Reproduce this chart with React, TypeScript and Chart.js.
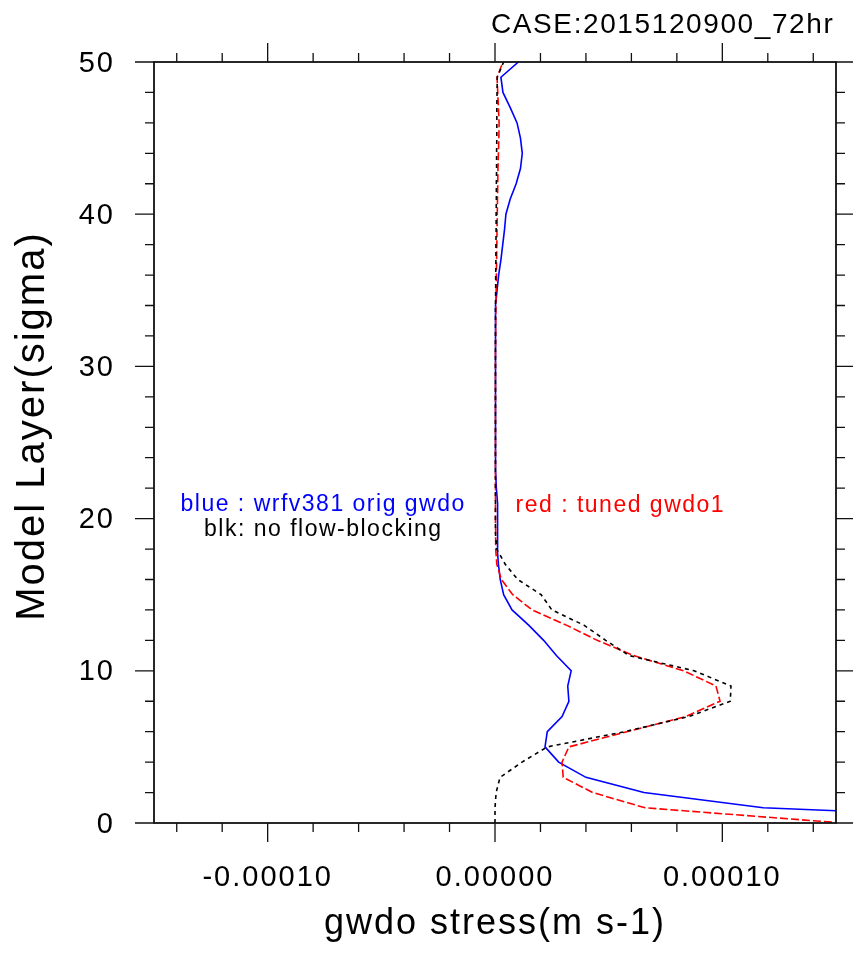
import React, { useEffect, useRef } from 'react';
import { Chart, registerables } from 'chart.js';

Chart.register(...registerables);

// ---- data (stress values in units of 1e-5 m s-1) ----
const LAYERS = [
  0, 1, 2, 3, 4, 5, 6, 7, 8, 9,
  10, 11, 12, 13, 14, 15, 16, 17, 18, 19,
  20, 21, 22, 23, 24, 25, 26, 27, 28, 29,
  30, 31, 32, 33, 34, 35, 36, 37, 38, 39,
  40, 41, 42, 43, 44, 45, 46, 47, 48, 49, 50,
];
const UNIT = 1e-5;
const BLUE_ORIG = [
  28, 11.8, 6.55, 4.0, 2.8, 2.2, 2.3, 2.95, 3.25, 3.2,
  3.35, 2.7, 2.14, 1.48, 0.75, 0.38, 0.23, 0.15, 0.1, 0.12,
  0.12, 0.1, 0.06, 0.03, 0.02, 0.02, 0.02, 0.02, 0.02, 0.02,
  0.02, 0.02, 0.02, 0.03, 0.04, 0.09, 0.16, 0.26, 0.34, 0.42,
  0.48, 0.67, 0.93, 1.12, 1.2, 1.12, 0.97, 0.67, 0.35, 0.26, 1.03,
];
const RED_TUNED = [
  15.3, 6.6, 4.3, 3.0, 2.95, 3.25, 5.8, 8.4, 9.9, 9.72,
  8.3, 6.1, 4.5, 3.14, 1.63, 0.78, 0.28, 0.08, 0.03, 0.03,
  0.02, 0.02, 0.02, 0.02, 0.02, 0.02, 0.02, 0.02, 0.02, 0.02,
  0.02, 0.02, 0.03, 0.03, 0.04, 0.05, 0.06, 0.07, 0.08, 0.09,
  0.1, 0.11, 0.12, 0.13, 0.15, 0.17, 0.18, 0.15, 0.12, 0.09, 0.35,
];
const BLACK_NOBLOCK = [
  0, 0, 0.05, 0.22, 1.19, 2.3, 5.7, 8.54, 10.35, 10.38,
  8.76, 5.9, 4.87, 3.91, 2.5, 2.03, 1.0, 0.45, 0.08, 0.02,
  0.02, 0.02, 0.02, 0.02, 0.02, 0.02, 0.02, 0.02, 0.02, 0.02,
  0.02, 0.02, 0.02, 0.02, 0.02, 0.03, 0.03, 0.04, 0.04, 0.05,
  0.05, 0.06, 0.06, 0.07, 0.07, 0.08, 0.08, 0.08, 0.09, 0.1, 0.38,
];

// ---- axes ----
const X_MIN = -0.00015;
const X_MAX = 0.00015;
const X_LABEL_TICKS = [-0.0001, 0, 0.0001];
const X_MINOR_TICKS = [
  -0.00014, -0.00012, -0.0001, -0.00008, -0.00006, -0.00004, -0.00002, 0,
  0.00002, 0.00004, 0.00006, 0.00008, 0.0001, 0.00012, 0.00014,
];
const Y_MIN = 0;
const Y_MAX = 50;
const Y_LABEL_TICKS = [0, 10, 20, 30, 40, 50];
const Y_MINOR_TICKS = [
  2, 4, 6, 8, 12, 14, 16, 18, 22, 24, 26, 28, 32, 34, 36, 38, 42, 44, 46, 48,
];

// ---- text ----
const CASE_TITLE = 'CASE:2015120900_72hr';
const X_TITLE = 'gwdo stress(m s-1)';
const Y_TITLE = 'Model Layer(sigma)';
const NOTE_BLUE = 'blue : wrfv381 orig gwdo';
const NOTE_RED = 'red : tuned gwdo1';
const NOTE_BLACK = 'blk: no flow-blocking';

const FONT = "'Liberation Sans', Arial, Helvetica, sans-serif";

const toPoints = (vals: number[]) =>
  vals.map((v, i) => ({ x: v * UNIT, y: LAYERS[i] }));

const nclPlugin = {
  id: 'nclFrame',
  beforeDraw(chart: any) {
    chart.ctx.letterSpacing = '2px';
  },
  afterDraw(chart: any) {
    const ctx = chart.ctx;
    const a = chart.chartArea;
    const xs = chart.scales.x;
    const ys = chart.scales.y;
    ctx.save();
    ctx.letterSpacing = '0px';
    ctx.strokeStyle = '#111';
    ctx.lineWidth = 1.3;
    const MAJOR = 19;
    const MINOR = 9;
    ctx.beginPath();
    const xt = [...X_MINOR_TICKS];
    for (const v of xt) {
      const px = xs.getPixelForValue(v);
      const len = X_LABEL_TICKS.some((m) => Math.abs(m - v) < 1e-12) ? MAJOR : MINOR;
      ctx.moveTo(px, a.bottom);
      ctx.lineTo(px, a.bottom + len);
      ctx.moveTo(px, a.top);
      ctx.lineTo(px, a.top - len);
    }
    const yt = [...Y_LABEL_TICKS, ...Y_MINOR_TICKS];
    for (const v of yt) {
      const py = ys.getPixelForValue(v);
      const len = Y_LABEL_TICKS.includes(v) ? MAJOR : MINOR;
      ctx.moveTo(a.left, py);
      ctx.lineTo(a.left - len, py);
      ctx.moveTo(a.right, py);
      ctx.lineTo(a.right + len, py);
    }
    ctx.stroke();
    ctx.lineWidth = 1.8;
    ctx.strokeRect(a.left, a.top, a.right - a.left, a.bottom - a.top);

    // texts
    ctx.textBaseline = 'alphabetic';
    ctx.textAlign = 'left';
    ctx.fillStyle = '#000';
    ctx.font = `28px ${FONT}`;
    ctx.letterSpacing = '1.6px';
    ctx.fillText(CASE_TITLE, 491, 33);

    ctx.font = `23px ${FONT}`;
    ctx.letterSpacing = '1.5px';
    ctx.fillStyle = '#0000ff';
    ctx.fillText(NOTE_BLUE, 180.5, 511);
    ctx.fillStyle = '#ff0000';
    ctx.fillText(NOTE_RED, 515.5, 511.5);
    ctx.fillStyle = '#000';
    ctx.fillText(NOTE_BLACK, 204, 536);

    ctx.save();
    ctx.font = `40px ${FONT}`;
    ctx.letterSpacing = '2px';
    ctx.translate(43.5, 426);
    ctx.rotate(-Math.PI / 2);
    ctx.textAlign = 'center';
    ctx.fillText(Y_TITLE, 0, 0);
    ctx.restore();

    ctx.restore();
  },
};

export default function App() {
  const ref = useRef<HTMLCanvasElement | null>(null);
  useEffect(() => {
    const canvas = ref.current;
    if (!canvas) return;
    const chart = new Chart(canvas, {
      type: 'scatter',
      data: {
        datasets: [
          {
            label: 'blk',
            data: toPoints(BLACK_NOBLOCK),
            showLine: true,
            borderColor: '#000000',
            borderWidth: 1.6,
            borderDash: [4, 4],
            pointRadius: 0,
            fill: false,
          },
          {
            label: 'red',
            data: toPoints(RED_TUNED),
            showLine: true,
            borderColor: '#ff0000',
            borderWidth: 1.6,
            borderDash: [8, 3],
            pointRadius: 0,
            fill: false,
          },
          {
            label: 'blue',
            data: toPoints(BLUE_ORIG),
            showLine: true,
            borderColor: '#0000ff',
            borderWidth: 1.6,
            pointRadius: 0,
            fill: false,
          },
        ],
      },
      plugins: [nclPlugin],
      options: {
        animation: false,
        responsive: false,
        devicePixelRatio: 1,
        layout: { padding: { top: 62, right: 17, bottom: 0, left: 0 } },
        plugins: {
          legend: { display: false },
          tooltip: { enabled: false },
          title: { display: false },
        },
        scales: {
          x: {
            type: 'linear',
            position: 'bottom',
            min: X_MIN,
            max: X_MAX,
            grid: { display: false, drawTicks: false },
            border: { display: false },
            afterBuildTicks: (scale: any) => {
              scale.ticks = X_LABEL_TICKS.map((v) => ({ value: v }));
            },
            afterFit: (scale: any) => {
              scale.height = 133;
            },
            ticks: {
              autoSkip: false,
              maxRotation: 0,
              minRotation: 0,
              padding: 38,
              color: '#000',
              font: { family: FONT, size: 29 },
              callback: (v: any) => Number(v).toFixed(5),
            },
            title: {
              display: true,
              text: X_TITLE,
              color: '#000',
              font: { family: FONT, size: 36 },
              padding: { top: 0, bottom: 10 },
            },
          },
          y: {
            type: 'linear',
            position: 'left',
            min: Y_MIN,
            max: Y_MAX,
            grid: { display: false, drawTicks: false },
            border: { display: false },
            afterBuildTicks: (scale: any) => {
              scale.ticks = Y_LABEL_TICKS.map((v) => ({ value: v }));
            },
            afterFit: (scale: any) => {
              scale.width = 154;
            },
            ticks: {
              autoSkip: false,
              padding: 39,
              labelOffset: 1.5,
              color: '#000',
              font: { family: FONT, size: 29 },
              callback: (v: any) => String(v),
            },
          },
        },
      },
    });
    return () => chart.destroy();
  }, []);
  return (
    <div style={{ position: 'fixed', left: 0, top: 0, width: 853, height: 956, background: '#fff' }}>
      <canvas ref={ref} width={853} height={956} style={{ display: 'block' }} />
    </div>
  );
}
